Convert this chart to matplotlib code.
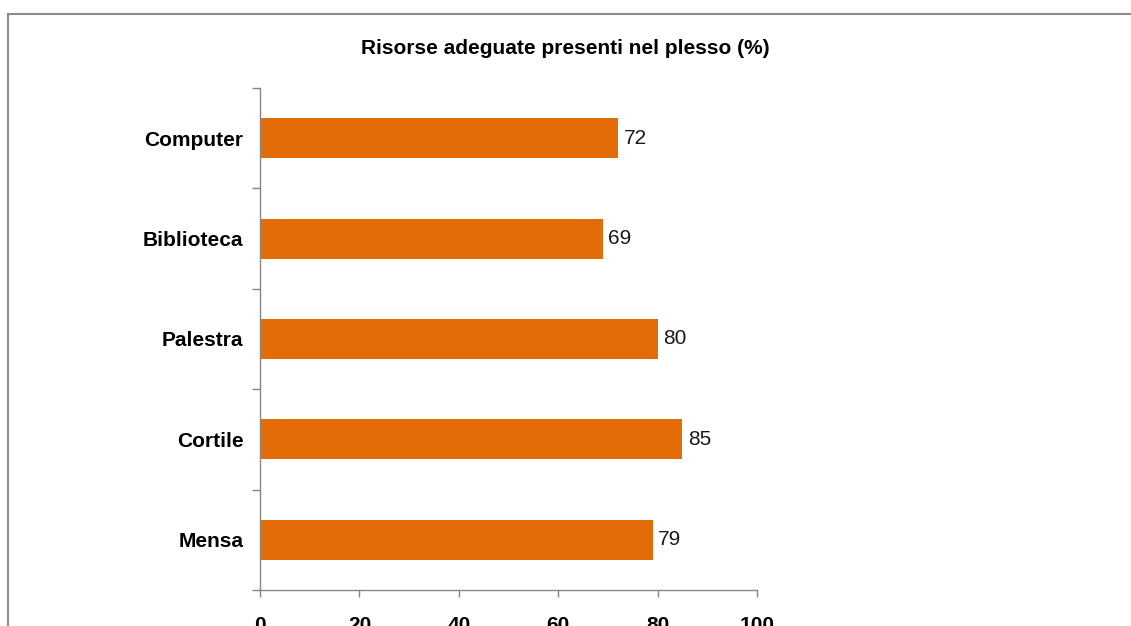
import matplotlib.pyplot as plt
from matplotlib.lines import Line2D

categories = ["Mensa", "Cortile", "Palestra", "Biblioteca", "Computer"]
values = [79, 85, 80, 69, 72]
xticks = [0, 20, 40, 60, 80, 100]
title = "Risorse adeguate presenti nel plesso (%)"

plt.rcParams["font.family"] = ["Liberation Sans Narrow", "Liberation Sans", "DejaVu Sans"]

BAR = "#E36C09"
AXC = "#868686"

fig = plt.figure(figsize=(11.31, 6.26), dpi=100)
ax = fig.add_axes([260 / 1131, 1 - 590 / 626, 497 / 1131, 502 / 626])

pos = list(range(len(categories)))
ax.barh(pos, values, height=0.4, color=BAR)
for p, v in zip(pos, values):
    ax.annotate(f"{v}", (v, p), xytext=(4, 0), textcoords="offset points",
                va="center", ha="left", fontsize=15, color="#1a1a1a")

ax.set_xlim(0, 100)
ax.set_ylim(-0.5, len(categories) - 0.5)
ax.set_xticks(xticks)
ax.set_xticklabels([str(t) for t in xticks], fontsize=15, fontweight="bold")
ax.set_yticks(pos)
ax.set_yticklabels(categories, fontsize=15, fontweight="bold")
ax.set_yticks([p - 0.5 for p in pos] + [len(categories) - 0.5], minor=True)
ax.tick_params(axis="y", which="major", length=0, pad=12)
ax.tick_params(axis="y", which="minor", length=6, color=AXC, width=1)
ax.tick_params(axis="x", length=5, color=AXC, width=1, pad=14)

for s in ("top", "right"):
    ax.spines[s].set_visible(False)
for s in ("left", "bottom"):
    ax.spines[s].set_color(AXC)
    ax.spines[s].set_linewidth(1)

fig.text(0.5, 1 - 48 / 626, title, ha="center", va="center",
         fontsize=15, fontweight="bold")

# outer chart frame (runs off the right and bottom edges)
W, H = 1131, 626
fig.add_artist(Line2D([7.5 / W, 7.5 / W], [0, 1 - 14 / H], color="#8c8c8c", lw=1.5,
                      transform=fig.transFigure))
fig.add_artist(Line2D([7.5 / W, 1], [1 - 14 / H, 1 - 14 / H], color="#8c8c8c", lw=1.5,
                      transform=fig.transFigure))

fig.savefig("out.png", dpi=100)
